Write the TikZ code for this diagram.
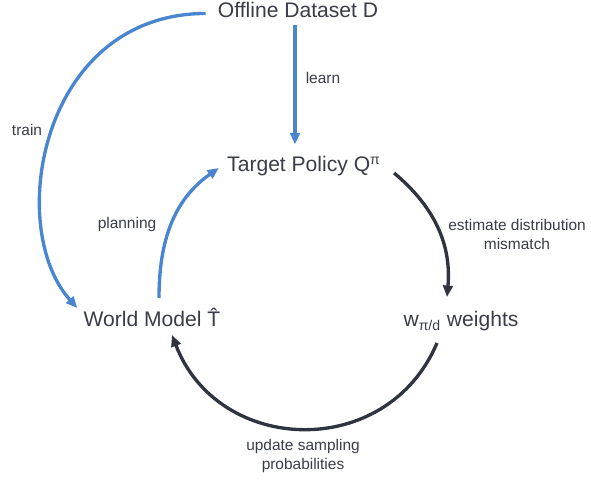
\documentclass[tikz,border=0pt]{standalone}
\usepackage{fontspec}
\setmainfont{Liberation Sans}
\usetikzlibrary{arrows.meta}

\definecolor{flowblue}{HTML}{4A86CF}
\definecolor{slate}{HTML}{2F3441}
\definecolor{labelgray}{HTML}{3A3D47}

\begin{document}
\begin{tikzpicture}[x=0.02cm,y=0.02cm,
        big/.style={text=labelgray,font=\fontsize{12}{14}\selectfont,inner sep=0,anchor=base},
        small/.style={text=labelgray,font=\fontsize{8.8}{10.8}\selectfont,align=center,inner sep=0},
        bluearrow/.style={flowblue,line width=1.9pt,-{Triangle[length=6.5pt,width=5.5pt]}},
        darkarrow/.style={slate,line width=1.9pt,-{Triangle[length=6.5pt,width=5.5pt]}}]

        \useasboundingbox (0,0) rectangle (591,483);

        % Stages
        \node[big] (offline) at (298,465) {Offline Dataset D};
        \node[big] (target) at (304,311) {Target Policy Q\textsuperscript{π}};
        \node[big] (world) at (152,156) {World Model T̂};
        \node[big] (weights) at (461,156) {w\textsubscript{π/d} weights};

        % Edge labels
        \node[small] (learn) at (323,405) {learn};
        \node[small] (train) at (27,353) {train};
        \node[small] (planning) at (127,258) {planning};
        \node[small] (estimate) at (517,249) {estimate distribution\\mismatch};
        \node[small] (update) at (303,27) {update sampling\\probabilities};

        % Blue edges
        \draw[bluearrow] ([shift={(-3,-6)}]offline.south) -- ([shift={(-3,12)}]offline.south |- target.north);
        \draw[bluearrow] ([shift={(-12,-3)}]offline.west) .. controls (40,469) and (5,255) .. ([shift={(-6,19)}]world.base west);
        \draw[bluearrow] ([shift={(7,29)}]world.base) to[out=90,in=215] ([shift={(-8,4)}]target.base west);

        % Dark edges
        \draw[darkarrow] ([shift={(13,-1)}]target.base east) to[out=-40,in=85] ([shift={(-14,30)}]weights.base);
        \draw[darkarrow] ([shift={(-24,-16)}]weights.base) to[out=-113,in=-69,looseness=1.24] ([shift={(20,-8)}]world.base);
\end{tikzpicture}
\end{document}
